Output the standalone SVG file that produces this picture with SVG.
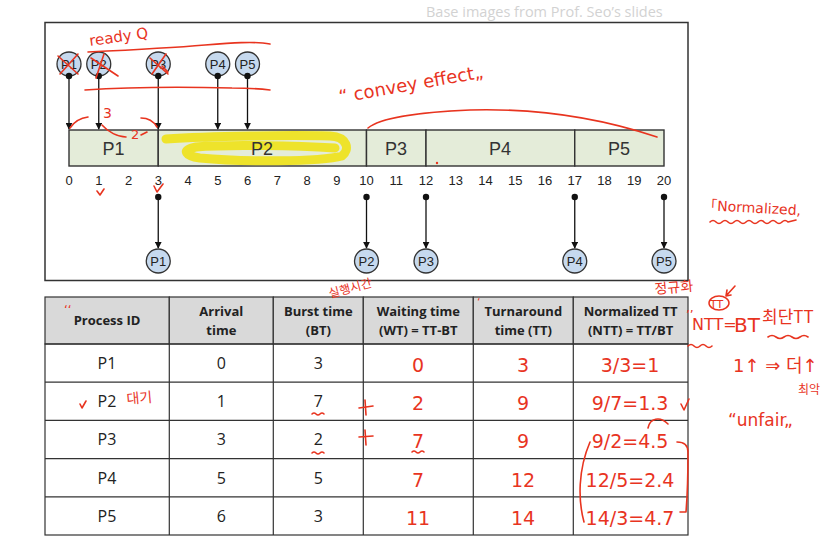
<svg xmlns="http://www.w3.org/2000/svg" width="832" height="546" viewBox="0 0 832 546">
  <defs>
    <marker id="arrow" viewBox="0 0 10 10" refX="9" refY="5" markerWidth="7" markerHeight="7" orient="auto" markerUnits="userSpaceOnUse">
      <path d="M0,0 L10,5 L0,10 z" fill="#111"/>
    </marker>
    <style>
      .frame { fill: #fff; stroke: #333; stroke-width: 1.5; }
      .seg { fill: #e4ecd9; stroke: #333; stroke-width: 1.4; }
      .seglabel { font-family: "Liberation Sans", Arial, sans-serif; font-size: 18px; fill: #333; text-anchor: middle; }
      .tick { font-family: "Liberation Sans", Arial, sans-serif; font-size: 13px; fill: #222; text-anchor: middle; }
      .proc .disc { fill: #c6d9ee; stroke: #333; stroke-width: 1.3; }
      .proc text { font-family: "Liberation Sans", Arial, sans-serif; font-size: 13px; fill: #222; text-anchor: middle; }
      .conn line { stroke: #111; stroke-width: 1.3; }
      .dot { fill: #111; stroke: none; }
      .head { fill: #d9d9d9; stroke: #333; stroke-width: 1.2; }
      .th { font-family: "Open Sans", "Noto Sans", sans-serif; font-size: 13px; font-weight: bold; fill: #222; text-anchor: middle; }
      .td { font-family: "Open Sans", "Noto Sans", sans-serif; font-size: 16px; fill: #222; text-anchor: middle; }
      .ink { fill: none; stroke: #e8341f; stroke-width: 1.6; stroke-linecap: round; stroke-linejoin: round; }
      .hand { font-family: "DejaVu Sans", "Noto Sans CJK KR", sans-serif; fill: #e8341f; }
      .num { font-family: "DejaVu Sans", sans-serif; font-size: 19px; fill: #e8341f; text-anchor: middle; }
      .kr { font-family: "Noto Sans CJK KR", sans-serif; fill: #e8341f; }
    </style>
  </defs>

  <rect width="832" height="546" fill="#fff"/>

  <!-- credit line -->
  <text x="426" y="17" font-family="Open Sans, Noto Sans, sans-serif" font-size="14.5" fill="#d2d2d2">Base images from Prof. Seo’s slides</text>

  <!-- chart frame -->
  <rect class="frame" x="45" y="22.5" width="643" height="258"/>

  <!-- Gantt chart -->
  <g id="gantt">
    <g id="seg-p1"><rect class="seg" x="69" y="130" width="89.25" height="36"/><text class="seglabel" x="113.6" y="155">P1</text></g>
    <g id="seg-p2"><rect class="seg" x="158.25" y="130" width="208.25" height="36"/></g>
    <g id="seg-p3"><rect class="seg" x="366.5" y="130" width="59.5" height="36"/><text class="seglabel" x="396" y="155">P3</text></g>
    <g id="seg-p4"><rect class="seg" x="426" y="130" width="148.75" height="36"/><text class="seglabel" x="500" y="155">P4</text></g>
    <g id="seg-p5"><rect class="seg" x="574.75" y="130" width="89.25" height="36"/><text class="seglabel" x="619" y="155">P5</text></g>
  </g>

  <!-- highlighter loop over the P2 slot -->
  <path d="M166,139 C210,136 290,135 330,136 C348,137 350,150 342,156 C320,162 240,162 200,158 C186,156 180,150 196,147 C230,144 300,146 335,148" fill="none" stroke="#efe21c" stroke-width="9" stroke-linecap="round" stroke-linejoin="round" opacity="0.92"/>
  <text class="seglabel" x="262" y="155">P2</text>

  <!-- time axis -->
  <g id="axis">
    <text class="tick" x="69" y="185">0</text>
    <text class="tick" x="98.75" y="185">1</text>
    <text class="tick" x="128.5" y="185">2</text>
    <text class="tick" x="158.25" y="185">3</text>
    <text class="tick" x="188" y="185">4</text>
    <text class="tick" x="217.75" y="185">5</text>
    <text class="tick" x="247.5" y="185">6</text>
    <text class="tick" x="277.25" y="185">7</text>
    <text class="tick" x="307" y="185">8</text>
    <text class="tick" x="336.75" y="185">9</text>
    <text class="tick" x="366.5" y="185">10</text>
    <text class="tick" x="396.25" y="185">11</text>
    <text class="tick" x="426" y="185">12</text>
    <text class="tick" x="455.75" y="185">13</text>
    <text class="tick" x="485.5" y="185">14</text>
    <text class="tick" x="515.25" y="185">15</text>
    <text class="tick" x="545" y="185">16</text>
    <text class="tick" x="574.75" y="185">17</text>
    <text class="tick" x="604.5" y="185">18</text>
    <text class="tick" x="634.25" y="185">19</text>
    <text class="tick" x="664" y="185">20</text>
  </g>

  <!-- arrival and completion connectors -->
  <g id="connectors" class="conn">
    <line x1="69" y1="76" x2="69" y2="129" marker-end="url(#arrow)"/>
    <line x1="98.75" y1="76" x2="98.75" y2="129" marker-end="url(#arrow)"/>
    <line x1="158.25" y1="76" x2="158.25" y2="129" marker-end="url(#arrow)"/>
    <line x1="217.75" y1="76" x2="217.75" y2="129" marker-end="url(#arrow)"/>
    <line x1="247.5" y1="76" x2="247.5" y2="129" marker-end="url(#arrow)"/>
    <line x1="158.25" y1="197" x2="158.25" y2="248" marker-end="url(#arrow)"/>
    <line x1="366.5" y1="197" x2="366.5" y2="248" marker-end="url(#arrow)"/>
    <line x1="426" y1="197" x2="426" y2="248" marker-end="url(#arrow)"/>
    <line x1="574.75" y1="197" x2="574.75" y2="248" marker-end="url(#arrow)"/>
    <line x1="664" y1="197" x2="664" y2="248" marker-end="url(#arrow)"/>
    <circle class="dot" cx="158.25" cy="197" r="3.2"/>
    <circle class="dot" cx="366.5" cy="197" r="3.2"/>
    <circle class="dot" cx="426" cy="197" r="3.2"/>
    <circle class="dot" cx="574.75" cy="197" r="3.2"/>
    <circle class="dot" cx="664" cy="197" r="3.2"/>
  </g>

  <!-- arriving processes -->
  <g id="arr-p1" class="proc"><circle class="disc" cx="69" cy="64" r="12"/><text x="69" y="69">P1</text><circle class="dot" cx="69" cy="76" r="3.2"/></g>
  <g id="arr-p2" class="proc"><circle class="disc" cx="98.75" cy="64" r="12"/><text x="98.75" y="69">P2</text><circle class="dot" cx="98.75" cy="76" r="3.2"/></g>
  <g id="arr-p3" class="proc"><circle class="disc" cx="158.25" cy="64" r="12"/><text x="158.25" y="69">P3</text><circle class="dot" cx="158.25" cy="76" r="3.2"/></g>
  <g id="arr-p4" class="proc"><circle class="disc" cx="217.75" cy="64" r="12"/><text x="217.75" y="69">P4</text><circle class="dot" cx="217.75" cy="76" r="3.2"/></g>
  <g id="arr-p5" class="proc"><circle class="disc" cx="247.5" cy="64" r="12"/><text x="247.5" y="69">P5</text><circle class="dot" cx="247.5" cy="76" r="3.2"/></g>

  <!-- finishing processes -->
  <g id="done-p1" class="proc"><circle class="disc" cx="158.25" cy="261" r="12"/><text x="158.25" y="266">P1</text></g>
  <g id="done-p2" class="proc"><circle class="disc" cx="366.5" cy="261" r="12"/><text x="366.5" y="266">P2</text></g>
  <g id="done-p3" class="proc"><circle class="disc" cx="426" cy="261" r="12"/><text x="426" y="266">P3</text></g>
  <g id="done-p4" class="proc"><circle class="disc" cx="574.75" cy="261" r="12"/><text x="574.75" y="266">P4</text></g>
  <g id="done-p5" class="proc"><circle class="disc" cx="664" cy="261" r="12"/><text x="664" y="266">P5</text></g>

  <!-- process table -->
  <g id="table">
    <rect class="head" x="45" y="297" width="124.3" height="47"/>
    <rect class="head" x="169.3" y="297" width="104" height="47"/>
    <rect class="head" x="273.3" y="297" width="90" height="47"/>
    <rect class="head" x="363.3" y="297" width="110" height="47"/>
    <rect class="head" x="473.3" y="297" width="100" height="47"/>
    <rect class="head" x="573.3" y="297" width="114.7" height="47"/>
    <text class="th" x="107" y="325">Process ID</text>
    <text class="th" x="221.3" y="316">Arrival</text><text class="th" x="221.3" y="335">time</text>
    <text class="th" x="318.3" y="316">Burst time</text><text class="th" x="318.3" y="335">(BT)</text>
    <text class="th" x="418.3" y="316">Waiting time</text><text class="th" x="418.3" y="335">(WT) = TT-BT</text>
    <text class="th" x="523.3" y="316">Turnaround</text><text class="th" x="523.3" y="335">time (TT)</text>
    <text class="th" x="630.6" y="316">Normalized TT</text><text class="th" x="630.6" y="335">(NTT) = TT/BT</text>

    <g fill="none" stroke="#333" stroke-width="1.2">
      <rect x="45" y="344" width="643" height="191"/>
      <line x1="45" y1="382.2" x2="688" y2="382.2"/>
      <line x1="45" y1="420.4" x2="688" y2="420.4"/>
      <line x1="45" y1="458.6" x2="688" y2="458.6"/>
      <line x1="45" y1="496.8" x2="688" y2="496.8"/>
      <line x1="169.3" y1="344" x2="169.3" y2="535"/>
      <line x1="273.3" y1="344" x2="273.3" y2="535"/>
      <line x1="363.3" y1="344" x2="363.3" y2="535"/>
      <line x1="473.3" y1="344" x2="473.3" y2="535"/>
      <line x1="573.3" y1="344" x2="573.3" y2="535"/>
    </g>

    <g id="row-p1"><text class="td" x="107" y="369">P1</text><text class="td" x="221.3" y="369">0</text><text class="td" x="318.3" y="369">3</text></g>
    <g id="row-p2"><text class="td" x="107" y="407">P2</text><text class="td" x="221.3" y="407">1</text><text class="td" x="318.3" y="407">7</text></g>
    <g id="row-p3"><text class="td" x="107" y="445">P3</text><text class="td" x="221.3" y="445">3</text><text class="td" x="318.3" y="445">2</text></g>
    <g id="row-p4"><text class="td" x="107" y="484">P4</text><text class="td" x="221.3" y="484">5</text><text class="td" x="318.3" y="484">5</text></g>
    <g id="row-p5"><text class="td" x="107" y="522">P5</text><text class="td" x="221.3" y="522">6</text><text class="td" x="318.3" y="522">3</text></g>
  </g>

  <!-- pen notes: chart -->
  <g id="notes-chart">
    <text class="hand" x="90" y="46" font-size="15" transform="rotate(-8 90 46)">ready Q</text>
    <path class="ink" d="M88,52 C130,50 170,48 205,45 C230,43 255,41 270,44"/>
    <path class="ink" d="M85,90 C130,87 190,87 232,88 C250,88 262,89 270,90"/>
    <path class="ink" d="M58,56 L78,74 M78,54 L60,74"/>
    <path class="ink" d="M91,58 L118,76 M104,54 L96,78"/>
    <path class="ink" d="M150,58 L168,74 M166,54 L152,74 M162,66 L168,72"/>
    <text class="hand" x="103" y="118" font-size="14">3</text>
    <path class="ink" d="M70,128 C74,122 80,118 88,117"/>
    <path class="ink" d="M102,125 C108,132 118,137 126,137"/>
    <text class="hand" x="131" y="139" font-size="13">2</text>
    <path class="ink" d="M141,135 L147,132"/>
    <path class="ink" d="M141,118 C148,118 154,122 157,127"/>
    <path class="ink" d="M97,191 L100,195 L104,189"/>
    <path class="ink" d="M154,186 L157,192 L163,184"/>
    <text class="hand" x="340" y="103" font-size="18" transform="rotate(-10 340 103)">“ convey effect„</text>
    <path class="ink" d="M368,128 C380,118 420,112 470,110 C540,108 600,118 657,137"/>
    <circle cx="437" cy="163" r="1.2" fill="#e8341f"/>
    <text class="hand" x="703" y="210" font-size="14" transform="rotate(3 703 210)">「Normalized,</text>
    <path class="ink" d="M710,222 q3,-3 6,0 t6,0 t6,0 t6,0 t6,0 t6,0 t6,0 t6,0 t6,0 t6,0 t6,0 t6,0 t6,0 L796,220"/>
    <text class="kr" x="330" y="298" font-size="12" transform="rotate(-15 330 298)">실행시간</text>
  </g>

  <!-- pen notes: table -->
  <g id="notes-table">
    <text class="hand" x="64" y="314" font-size="12">‘‘</text>
    <text class="hand" x="477" y="306" font-size="11">‘</text>
    <path class="ink" d="M80,404 L82,408 L86,401"/>
    <text class="kr" x="127" y="404" font-size="14" transform="rotate(-5 127 404)">대기</text>
    <path class="ink" d="M312,414 q2,-2 4,0 t4,0 t4,0"/>
    <path class="ink" d="M312,453 q2,-2 4,0 t4,0 t4,0"/>
    <path class="ink" d="M359,408 L373,406 M365,400 L366,415"/>
    <path class="ink" d="M359,437 L373,436 M365,430 L366,445"/>
    <path class="ink" d="M412,452 q2,-2 4,0 t4,0 t4,0"/>

    <text class="num" x="418" y="372">0</text>
    <text class="num" x="418" y="410">2</text>
    <text class="num" x="418" y="448">7</text>
    <text class="num" x="418" y="487">7</text>
    <text class="num" x="418" y="525">11</text>

    <text class="num" x="523" y="372">3</text>
    <text class="num" x="523" y="410">9</text>
    <text class="num" x="523" y="448">9</text>
    <text class="num" x="523" y="487">12</text>
    <text class="num" x="523" y="525">14</text>

    <text class="num" x="630" y="372">3/3=1</text>
    <text class="num" x="630" y="410">9/7=1.3</text>
    <text class="num" x="630" y="448">9/2=4.5</text>
    <text class="num" x="630" y="487">12/5=2.4</text>
    <text class="num" x="630" y="525">14/3=4.7</text>

    <path class="ink" d="M681,404 L684,410 L689,399"/>
    <path class="ink" d="M648,428 C650,418 660,416 668,424"/>
    <path class="ink" d="M590,442 C578,470 578,500 584,522"/>
    <path class="ink" d="M677,442 C685,442 688,446 688,452 C688,475 687,500 686,512 L680,512"/>

    <text class="kr" x="655" y="294" font-size="14" transform="rotate(-5 655 294)">정규화</text>
    <path class="ink" d="M735,286 L726,296 M726,296 L727,290 M726,296 L731,295"/>
    <ellipse cx="719" cy="303" rx="10" ry="7" fill="none" stroke="#e8341f" stroke-width="1.5"/>
    <text class="hand" x="710" y="308" font-size="11">TT</text>
    <text class="hand" x="686" y="312" font-size="12">‚‚</text>
    <text class="hand" x="692" y="330" font-size="16">NTT=</text>
    <text class="hand" x="734" y="332" font-size="20">BT</text>
    <path class="ink" d="M688,346 q3,-3 6,0 t6,0 t6,0 t6,0"/>
    <text class="kr" x="762" y="323" font-size="17">최단TT</text>
    <path class="ink" d="M768,337 q4,-3 8,0 t8,0 t8,0 t8,0 t8,0"/>
    <text class="hand" x="733" y="372" font-size="18">1↑ ⇒ 더↑</text>
    <text class="kr" x="798" y="394" font-size="12">최악</text>
    <text class="hand" x="728" y="426" font-size="17">“unfair„</text>
  </g>
</svg>
